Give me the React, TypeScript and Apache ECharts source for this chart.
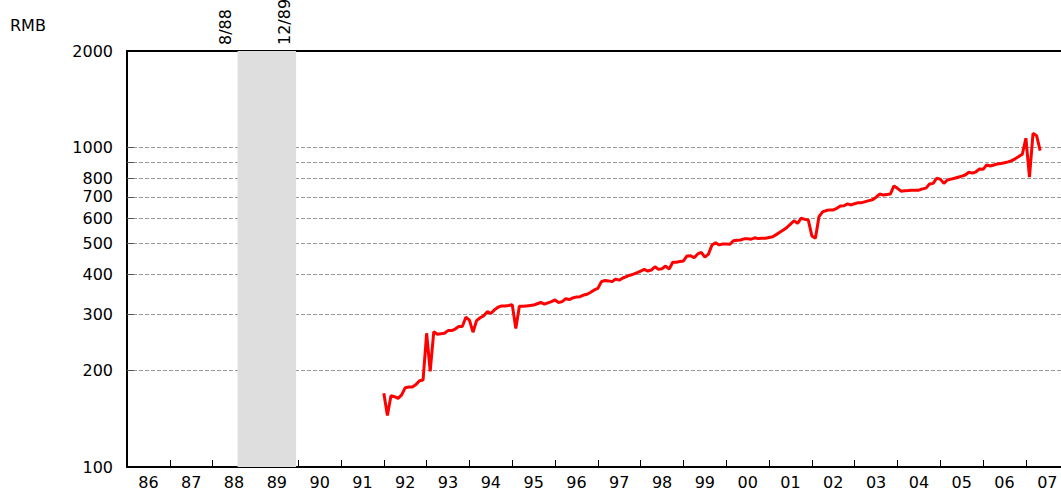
import React, { useEffect, useRef } from "react";
import * as echarts from "echarts";

// Monthly price (RMB), Jan of each year onward
const v1992 = [170, 145, 167, 166, 164, 168, 177, 178, 178, 181, 186, 187];
const v1993 = [262, 199, 265, 260, 261, 262, 267, 267, 270, 275, 275, 294];
const v1994 = [288, 264, 287, 293, 297, 306, 302, 310, 316, 319, 319, 320];
const v1995 = [322, 271, 318, 318, 319, 320, 321, 324, 327, 323, 326, 329];
const v1996 = [333, 327, 329, 336, 334, 338, 340, 341, 345, 347, 352, 358];
const v1997 = [362, 380, 383, 382, 380, 387, 384, 390, 394, 398, 401, 405];
const v1998 = [410, 415, 410, 413, 423, 415, 417, 425, 416, 437, 437, 439];
const v1999 = [441, 457, 458, 451, 464, 469, 453, 463, 495, 503, 495, 498];
const v2000 = [498, 497, 510, 512, 513, 517, 517, 516, 521, 518, 519, 519];
const v2001 = [522, 525, 533, 542, 551, 561, 575, 589, 578, 600, 595, 592];
const v2002 = [528, 519, 607, 628, 634, 637, 637, 644, 655, 656, 665, 660];
const v2003 = [666, 671, 671, 676, 681, 685, 698, 714, 709, 712, 714, 757];
const v2004 = [744, 729, 731, 732, 734, 734, 734, 741, 745, 768, 771, 800];
const v2005 = [795, 771, 790, 795, 800, 806, 812, 819, 835, 830, 838, 855];
const v2006 = [853, 881, 874, 880, 887, 890, 894, 900, 908, 920, 935, 951];
const v2007 = [1067, 806, 1106, 1087, 976];

const yearlySeries: [number, number[]][] = [
  [1992, v1992], [1993, v1993], [1994, v1994], [1995, v1995],
  [1996, v1996], [1997, v1997], [1998, v1998], [1999, v1999],
  [2000, v2000], [2001, v2001], [2002, v2002], [2003, v2003],
  [2004, v2004], [2005, v2005], [2006, v2006], [2007, v2007],
];

// Axis values
const xMin = 1986;
const xMax = 2007.82;
const yearTicks = [1987, 1988, 1989, 1990, 1991, 1992, 1993, 1994, 1995, 1996, 1997, 1998, 1999, 2000, 2001, 2002, 2003, 2004, 2005, 2006, 2007];
const yearLabels = [1986.5, 1987.5, 1988.5, 1989.5, 1990.5, 1991.5, 1992.5, 1993.5, 1994.5, 1995.5, 1996.5, 1997.5, 1998.5, 1999.5, 2000.5, 2001.5, 2002.5, 2003.5, 2004.5, 2005.5, 2006.5, 2007.5];
const yGridValues = [200, 300, 400, 500, 600, 700, 800, 900, 1000];
const yLabelValues = [100, 200, 300, 400, 500, 600, 700, 800, 1000, 2000];

// Shaded period 8/88 - 12/89
const shadeStart = 1988 + 7 / 12;
const shadeEnd = 1989.95;
const shadeLabels = ["8/88", "12/89"];

const FONT = "DejaVu Sans";
const FS = 16;

export default function App() {
  const ref = useRef<HTMLDivElement>(null);
  useEffect(() => {
    if (!ref.current) return;
    const chart = echarts.init(ref.current, null, { renderer: "svg" });
    const data: [number, number][] = [];
    yearlySeries.forEach(([yr, vals]) => {
      vals.forEach((v, i) => data.push([yr + i / 12, v]));
    });
    chart.setOption({
      animation: false,
      grid: { left: 127, right: 0, top: 51, bottom: 30 },
      xAxis: [
        {
          type: "value",
          min: xMin,
          max: xMax,
          position: "bottom",
          axisLine: { show: true, onZero: false, lineStyle: { color: "#000", width: 2 } },
          axisTick: { show: true, inside: true, length: 7, customValues: yearTicks, lineStyle: { color: "#000", width: 1 } },
          axisLabel: {
            customValues: yearLabels,
            formatter: (v: number) => String(Math.floor(v) % 100).padStart(2, "0"),
            color: "#000",
            fontFamily: FONT,
            fontSize: FS,
            margin: 7,
          },
          splitLine: { show: false },
        },
        {
          type: "value",
          min: xMin,
          max: xMax,
          position: "top",
          axisLine: { show: true, onZero: false, lineStyle: { color: "#000", width: 2 } },
          axisTick: { show: false },
          axisLabel: { show: false },
          splitLine: { show: false },
        },
      ],
      yAxis: {
        type: "log",
        min: 100,
        max: 2000,
        axisLine: { show: true, lineStyle: { color: "#000", width: 2 } },
        axisTick: { show: true, inside: true, length: 7, customValues: yGridValues, lineStyle: { color: "#555", width: 1 } },
        axisLabel: {
          customValues: yLabelValues,
          formatter: (v: number) => String(Math.round(v)),
          color: "#000",
          fontFamily: FONT,
          fontSize: FS,
          margin: 14,
        },
        splitLine: { show: true, lineStyle: { color: "#9a9a9a", width: 1, type: [4, 2] } },
      },
      graphic: [
        {
          type: "text",
          left: 10,
          top: 17,
          style: { text: "RMB", fontFamily: FONT, fontSize: FS, fill: "#000" },
        },
        {
          type: "text",
          x: 233,
          y: 45,
          rotation: Math.PI / 2,
          style: { text: shadeLabels[0], fontFamily: FONT, fontSize: FS, fill: "#000", align: "left", verticalAlign: "bottom" },
        },
        {
          type: "text",
          x: 292,
          y: 45,
          rotation: Math.PI / 2,
          style: { text: shadeLabels[1], fontFamily: FONT, fontSize: FS, fill: "#000", align: "left", verticalAlign: "bottom" },
        },
      ],
      series: [
        {
          type: "line",
          data,
          showSymbol: false,
          symbol: "none",
          lineStyle: { color: "#ff0000", width: 3 },
          markArea: {
            silent: true,
            itemStyle: { color: "#dedede" },
            data: [[{ xAxis: shadeStart }, { xAxis: shadeEnd }]],
          },
          z: 3,
        },
      ],
    });
    return () => chart.dispose();
  }, []);
  return (
    <div
      ref={ref}
      style={{ position: "absolute", left: 0, top: 0, width: 1061, height: 497, background: "#fff" }}
    />
  );
}
